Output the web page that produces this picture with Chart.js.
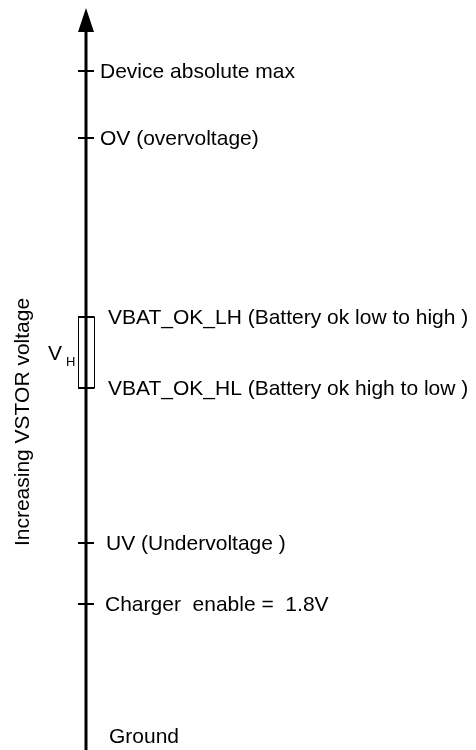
<!DOCTYPE html>
<html>
<head>
<meta charset="utf-8">
<script src="https://cdn.jsdelivr.net/npm/chart.js@4/dist/chart.umd.min.js"></script>
<style>
  html, body { margin: 0; padding: 0; background: #fff; }
</style>
</head>
<body>
<canvas id="myChart" width="476" height="750"></canvas>
<script>
// Define the data (diagram units, the axis is not to scale)
var levelNames = [
  "Device absolute max",
  "OV (overvoltage)",
  "VBAT_OK_LH (Battery ok low to high )",
  "VBAT_OK_HL (Battery ok high to low )",
  "UV (Undervoltage )",
  "Charger  enable =  1.8V"
];
var levelValues = [6.79, 6.12, 4.33, 3.62, 2.07, 1.46];
var groundName = "Ground";
var groundValue = 0.13;
var axisTop = 7.18;   // where the arrow head starts
var arrowTip = 7.42;
var axisTitle = "Increasing VSTOR voltage";
var hystIndex = [2, 3]; // V_H box spans these two levels
// End Defining data

var FONT = "'Liberation Sans', Arial, sans-serif";
var labelIndent = [14, 14, 22, 22, 20, 19]; // px right of the axis
var groundIndent = 23;

var ctx = document.getElementById("myChart").getContext('2d');

// draws arrow head, V_H box and all the text from the scales
var diagramPlugin = {
  id: 'diagram',
  beforeDatasetsDraw: function(chart) {
    var c = chart.ctx, xs = chart.scales.x, ys = chart.scales.y;
    var x0 = xs.getPixelForValue(0);
    var yTop = ys.getPixelForValue(levelValues[hystIndex[0]]);
    var yBot = ys.getPixelForValue(levelValues[hystIndex[1]]);
    c.save();
    c.strokeStyle = '#000';
    c.lineWidth = 1;
    c.strokeRect(x0 - 7.5, yTop, 16, yBot - yTop);
    c.restore();
  },
  afterDatasetsDraw: function(chart) {
    var c = chart.ctx, xs = chart.scales.x, ys = chart.scales.y;
    var x0 = xs.getPixelForValue(0);
    c.save();
    // arrow head
    var yb = ys.getPixelForValue(axisTop), yt = ys.getPixelForValue(arrowTip);
    c.fillStyle = '#000';
    c.beginPath();
    c.moveTo(x0, yt);
    c.lineTo(x0 + 8, yb);
    c.lineTo(x0 - 8, yb);
    c.closePath();
    c.fill();

    // level labels
    c.font = '21px ' + FONT;
    c.textBaseline = 'middle';
    c.textAlign = 'left';
    for (var i = 0; i < levelNames.length; i++) {
      c.fillText(levelNames[i], x0 + labelIndent[i], ys.getPixelForValue(levelValues[i]) + 1);
    }
    c.fillText(groundName, x0 + groundIndent, ys.getPixelForValue(groundValue));

    // V_H
    var yMid = (ys.getPixelForValue(levelValues[hystIndex[0]]) + ys.getPixelForValue(levelValues[hystIndex[1]])) / 2;
    c.fillText('V', x0 - 38, yMid + 2);
    c.font = '13px ' + FONT;
    c.fillText('H', x0 - 20, yMid + 10);

    // axis title
    c.font = '21px ' + FONT;
    c.textAlign = 'center';
    c.translate(23, 422);
    c.rotate(-Math.PI / 2);
    c.fillText(axisTitle, 0, 0);
    c.restore();
  }
};

var myChart = new Chart(ctx, {
  type: 'scatter',
  data: {
    datasets: [{
      type: 'line',
      label: 'axis',
      data: [{x: 0, y: 0}, {x: 0, y: axisTop}],
      borderColor: '#000',
      borderWidth: 3,
      pointRadius: 0
    }, {
      label: 'levels',
      data: levelValues.map(function(v) { return {x: 0, y: v}; }),
      pointStyle: 'line',
      pointRadius: 8,
      borderColor: '#000',
      backgroundColor: '#000',
      borderWidth: 2
    }]
  },
  options: {
    responsive: false,
    animation: false,
    layout: { padding: 0, autoPadding: false },
    plugins: { legend: { display: false }, tooltip: { enabled: false } },
    scales: {
      x: { type: 'linear', display: false, min: -0.86, max: 3.9 },
      y: { type: 'linear', display: false, min: 0, max: 7.5 }
    }
  },
  plugins: [diagramPlugin]
});
</script>
</body>
</html>
